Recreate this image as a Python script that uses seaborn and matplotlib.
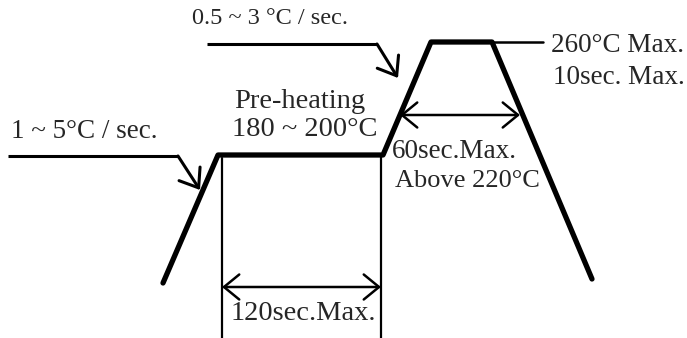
"""
Perfil de reflow (soldadura) dibujado con seaborn sobre ejes en coordenadas de pixel.
"""

import matplotlib
matplotlib.use("Agg")
import matplotlib.pyplot as plt
import seaborn as sns

# perfil de temperatura (coordenadas del dibujo, y hacia abajo)
profile_x = [163, 218, 383, 431, 492, 592]
profile_y = [283, 155, 155, 42, 42, 279]

# lineas verticales del precalentamiento
preheat_marks_x = [222, 381]
preheat_top_y = [158, 156]

# cotas con flechas dobles: (x0, x1, y)
dim_120 = (222, 381, 287)
dim_60 = (400, 520, 115)

# flechas indicadoras de pendiente
ramp1_path_x = [8, 178, 200]
ramp1_path_y = [156, 156, 190]
ramp2_path_x = [207, 377, 398]
ramp2_path_y = [44, 44, 78]

# linea del pico
peak_line_x = [492, 543]
peak_line_y = [42, 42]

sns.set_style("white")
plt.rcParams["font.family"] = ["Liberation Serif", "DejaVu Serif"]

fig = plt.figure(figsize=(6.87, 3.38), dpi=100)
ax = fig.add_axes([0, 0, 1, 1])
ax.set_xlim(0, 687)
ax.set_ylim(338, 0)
ax.axis("off")

sns.lineplot(x=profile_x, y=profile_y, sort=False, estimator=None, color="black",
             linewidth=3.8, ax=ax)
sns.lineplot(x=peak_line_x, y=peak_line_y, sort=False, estimator=None, color="black",
             linewidth=1.8, ax=ax)

for x, y0 in zip(preheat_marks_x, preheat_top_y):
    ax.plot([x, x], [y0, 338], color="black", linewidth=1.6)

for x0, x1, y in (dim_120, dim_60):
    ax.annotate("", xy=(x1, y), xytext=(x0, y),
                arrowprops=dict(arrowstyle="<->,head_length=0.55,head_width=0.45",
                                color="black", lw=1.8, mutation_scale=20,
                                shrinkA=0, shrinkB=0))

for px, py in ((ramp1_path_x, ramp1_path_y), (ramp2_path_x, ramp2_path_y)):
    ax.plot(px[:2], py[:2], color="black", linewidth=2.2, solid_capstyle="butt")
    ax.annotate("", xy=(px[2], py[2]), xytext=(px[1], py[1]),
                arrowprops=dict(arrowstyle="->,head_length=0.6,head_width=0.45",
                                color="black", lw=2.2, mutation_scale=20,
                                shrinkA=0, shrinkB=0))

ax.text(192, 18, "0.5 ~ 3 °C / sec.", fontsize=17.5, va="center", ha="left")
ax.text(300, 102, "Pre-heating", fontsize=20.5, va="center", ha="center")
ax.text(305, 130, "180 ~ 200°C", fontsize=20.5, va="center", ha="center")
ax.text(11, 132, "1 ~ 5°C / sec.", fontsize=19.5, va="center", ha="left")
ax.text(551, 45, "260°C Max.", fontsize=19.5, va="center", ha="left")
ax.text(553, 78, "10sec. Max.", fontsize=19.5, va="center", ha="left")
ax.text(392, 151, "60sec.Max.", fontsize=19.5, va="center", ha="left")
ax.text(395, 181, "Above 220°C", fontsize=19, va="center", ha="left")
ax.text(231, 313, "120sec.Max.", fontsize=20.5, va="center", ha="left")

fig.savefig("out.png", dpi=100)
plt.close(fig)
